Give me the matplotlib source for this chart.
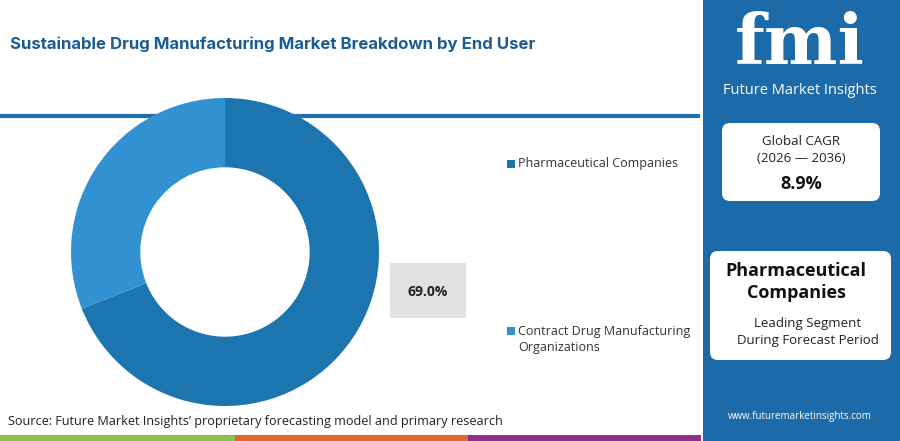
import matplotlib
matplotlib.use('Agg')
import matplotlib.pyplot as plt
import matplotlib.patches as mpatches

plt.rcParams['font.family'] = ['Open Sans', 'DejaVu Sans']

# data
segments = ['Pharmaceutical Companies', 'Contract Drug Manufacturing\nOrganizations']
shares = [69.0, 31.0]
colors = ['#1c75ae', '#3292d1']
title = 'Sustainable Drug Manufacturing Market Breakdown by End User'
source = 'Source: Future Market Insights\u2019 proprietary forecasting model and primary research'
cagr_label = 'Global CAGR\n(2026 \u2014 2036)'
cagr_value = '8.9%'
lead_segment = 'Pharmaceutical\nCompanies'
lead_text = 'Leading Segment\nDuring Forecast Period'

W, H = 900, 441
fig = plt.figure(figsize=(9, 4.41), dpi=100)
fig.patch.set_facecolor('white')

# pixel overlay axes
bg = fig.add_axes([0, 0, 1, 1])
bg.set_xlim(0, W)
bg.set_ylim(H, 0)
bg.axis('off')

# title + rule
bg.text(10, 44, title, fontsize=12.1, fontweight='bold', color='#1a5d95',
        va='center', ha='left', family=['Inter', 'DejaVu Sans'])
bg.plot([0, 700], [116, 116], color='#1f6fad', lw=3, solid_capstyle='butt')

# bottom stripes
bg.add_patch(mpatches.Rectangle((0, 435), 235, 6, color='#8bc34a', lw=0))
bg.add_patch(mpatches.Rectangle((235, 435), 233, 6, color='#e2672f', lw=0))
bg.add_patch(mpatches.Rectangle((468, 435), 233, 6, color='#8e2f8c', lw=0))

bg.text(8, 421, source, fontsize=9.1, color='#222222', va='center', ha='left')

# right panel
bg.add_patch(mpatches.Rectangle((703, 0), 197, H, color='#1d6aa8', lw=0))
bg.text(800, 45, 'fmi', fontsize=50, fontweight='bold', color='white',
        ha='center', va='center', family=['DejaVu Serif'])
bg.text(800, 90, 'Future Market Insights', fontsize=10.5, color='white',
        ha='center', va='center')

bg.add_patch(mpatches.FancyBboxPatch((722, 123), 158, 78,
             boxstyle='round,pad=0,rounding_size=8', fc='white', ec='none'))
bg.text(801, 150, cagr_label, fontsize=9.5, color='#222222', ha='center',
        va='center', linespacing=1.4)
bg.text(801, 184, cagr_value, fontsize=13, fontweight='bold', color='#111111',
        ha='center', va='center')

bg.add_patch(mpatches.FancyBboxPatch((710, 251), 181, 109,
             boxstyle='round,pad=0,rounding_size=8', fc='white', ec='none'))
bg.text(796, 282, lead_segment, fontsize=13, fontweight='bold', color='#111111',
        ha='center', va='center', linespacing=1.35)
bg.text(808, 332, lead_text, fontsize=9.5, color='#222222', ha='center',
        va='center', linespacing=1.4)

bg.text(800, 417, 'www.futuremarketinsights.com', fontsize=7, color='white',
        ha='center', va='center')

# donut
cx, cy, r = 225, 252, 154
ax = fig.add_axes([(cx - r) / W, (H - cy - r) / H, 2 * r / W, 2 * r / H])
ax.pie(shares, colors=colors, startangle=90, counterclock=False,
       wedgeprops=dict(width=0.45, edgecolor='none'))
ax.set_xlim(-1, 1)
ax.set_ylim(-1, 1)
ax.set_aspect('auto')
ax.axis('off')

# value label box
bg.add_patch(mpatches.Rectangle((390, 263), 76, 55, color='#e1e1e1', lw=0))
bg.text(428, 292, '%.1f%%' % shares[0], fontsize=10, fontweight='bold',
        color='#222222', ha='center', va='center')

# legend
leg_y = [164, 331]
for name, c, y in zip(segments, colors, leg_y):
    bg.add_patch(mpatches.Rectangle((507, y - 4), 8, 8, color=c, lw=0))
    ty = y + 8 * name.count('\n')
    bg.text(518, ty, name, fontsize=9, color='#333333',
            ha='left', va='center', linespacing=1.3)

fig.savefig('out.png', dpi=100)
